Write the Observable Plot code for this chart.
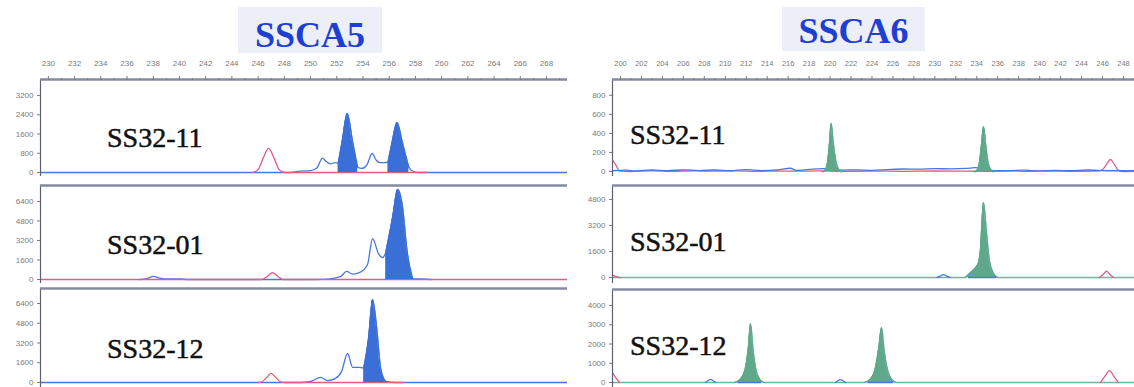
<!DOCTYPE html>
<html>
<head>
<meta charset="utf-8">
<script src="https://cdn.jsdelivr.net/npm/d3@7"></script>
<script src="https://cdn.jsdelivr.net/npm/@observablehq/plot@0.6"></script>
<style>
  html, body { margin: 0; padding: 0; background: #fff; }
  body { position: relative; width: 1134px; height: 387px; overflow: hidden; font-family: "Liberation Sans", Arial, sans-serif; }
  .title { position: absolute; box-sizing: border-box; background: #edeff8; color: #1e3fd2;
           font-family: "Liberation Serif", "Times New Roman", Times, "DejaVu Serif", serif;
           font-weight: bold; font-size: 36px; line-height: 40px; text-align: center; }
  .sample { position: absolute; font-family: "Liberation Serif", "Times New Roman", Times, "DejaVu Serif", serif;
            font-size: 28px; line-height: 28px; color: #111; white-space: nowrap; -webkit-text-stroke: 0.5px #111; }
  svg { position: absolute; overflow: visible; }
</style>
</head>
<body>
<script>
// ---------------- DATA ----------------
const markers = ["SSCA5", "SSCA6"];
const samples = ["SS32-11", "SS32-01", "SS32-12"];

// top axis tick labels (fragment size, bp)
const ssca5SizeTicks = [230,232,234,236,238,240,242,244,246,248,250,252,254,256,258,260,262,264,266,268];
const ssca6SizeTicks = [200,202,204,206,208,210,212,214,216,218,220,222,224,226,228,230,232,234,236,238,240,242,244,246,248];

// y-axis tick labels (RFU)
const ssca5_11_yTicks = [0, 800, 1600, 2400, 3200];
const ssca5_01_yTicks = [0, 1600, 3200, 4800, 6400];
const ssca5_12_yTicks = [0, 1600, 3200, 4800, 6400];
const ssca6_11_yTicks = [0, 200, 400, 600, 800];
const ssca6_01_yTicks = [0, 1600, 3200, 4800];
const ssca6_12_yTicks = [0, 1000, 2000, 3000, 4000];

// ---- SSCA5 / SS32-11 ----  [size, height]
const ssca5_11_blue = [[229.4,0],[248.5,0],[249.2,60],[250.0,80],[250.5,200],[250.9,600],[251.2,460],[251.5,360],[251.9,410],[252.1,380],[252.4,1250],[252.8,2450],[253.2,1300],[253.6,220],[253.9,170],[254.3,320],[254.7,790],[255.0,520],[255.3,410],[255.9,420],[256.2,1200],[256.6,2075],[257.0,1250],[257.5,220],[257.9,30],[258.4,0],[269.6,0]];
const ssca5_11_red = [[245.6,0],[246.0,120],[246.4,620],[246.8,1000],[247.2,620],[247.6,120],[248.0,0],[258.9,0]];
const ssca5_11_called = [[252.1,253.6],[255.9,257.5]];

// ---- SSCA5 / SS32-01 ----
const ssca5_01_blue = [[237.0,0],[237.6,100],[238.0,250],[238.5,120],[239.2,40],[240.1,40],[240.6,0],[250.4,0],[251.5,50],[252.3,250],[252.75,660],[253.2,440],[253.8,600],[254.35,1250],[254.73,3350],[255.19,2100],[255.5,1800],[255.73,2200],[256.26,5100],[256.64,7380],[257.02,5900],[257.33,2600],[257.79,80],[258.4,40],[259.2,0]];
const ssca5_01_red = [[229.4,0],[246.3,0],[246.7,250],[247.1,560],[247.5,250],[247.9,0],[269.6,0]];
const ssca5_01_called = [[255.73,257.79]];

// ---- SSCA5 / SS32-12 ----
const ssca5_12_blue = [[229.4,0],[248.5,0],[249.2,0],[250.0,80],[250.76,410],[251.3,160],[251.9,330],[252.37,900],[252.82,2350],[253.21,1230],[253.66,1230],[254.05,1170],[254.43,3630],[254.73,6720],[255.04,4450],[255.34,1170],[255.73,80],[256.5,0],[269.6,0]];
const ssca5_12_red = [[246.0,0],[246.3,60],[246.65,400],[247.0,740],[247.35,400],[247.7,60],[248.0,0],[257.1,0]];
const ssca5_12_called = [[254.05,255.73]];

// ---- SSCA6 / SS32-11 ----
const ssca6_11_greenA = [[219.2,0],[219.4,0],[219.7,60],[219.95,300],[220.1,505],[220.3,300],[220.6,80],[221.0,0],[221.2,0]];
const ssca6_11_greenB = [[233.7,0],[233.9,0],[234.2,60],[234.45,280],[234.64,472],[234.85,280],[235.1,80],[235.5,0],[235.7,0]];
const ssca6_11_blue = [[199.24,8],[200.5,14],[201.5,6],[203,16],[204.5,8],[206,18],[207.5,10],[209,16],[210.5,8],[212,20],[213.5,10],[215,18],[216.2,34],[216.8,12],[218,22],[219.3,30],[221.2,15],[222.5,18],[224,12],[225.5,20],[227,26],[228.5,24],[230,30],[231.5,28],[233,32],[233.8,40],[235.6,10],[237,8],[238.5,14],[240,6],[241.5,12],[243,8],[244.5,16],[245.8,10],[247.5,8],[249.05,10]];
const ssca6_11_red = [[199.24,120],[199.6,60],[199.9,5],[201,0],[203,6],[205,2],[207,8],[209,3],[211,6],[213,2],[215,5],[217,3],[219,6],[221,2],[224,4],[227,2],[230,5],[233,3],[235,2],[237,6],[239,2],[241,5],[243,2],[245.3,3],[246.0,20],[246.4,80],[246.76,126],[247.1,80],[247.5,15],[248,0],[249.05,3]];
const ssca6_11_called = [[219.4,221.0],[233.9,235.5]];

// ---- SSCA6 / SS32-01 ----
const ssca6_01_green = [[199.24,0],[232.9,0],[233.4,300],[233.9,620],[234.16,900],[234.35,1700],[234.64,4610],[234.92,2800],[235.21,1000],[235.6,250],[236.0,0],[249.05,0]];
const ssca6_01_blueBump = [[230.2,0],[230.5,80],[230.82,180],[231.15,80],[231.45,0]];
const ssca6_01_blueBase = [[233.2,0],[235.8,0]];
const ssca6_01_redEdge = [[199.24,150],[199.6,60],[199.95,0]];
const ssca6_01_redBump = [[245.7,0],[246.05,180],[246.38,390],[246.7,180],[247.05,0]];
const ssca6_01_called = [[232.9,236.0]];

// ---- SSCA6 / SS32-12 ----
const ssca6_12_green = [[199.24,0],[210.9,0],[211.4,150],[211.9,700],[212.2,1800],[212.41,3060],[212.65,1700],[212.95,600],[213.3,150],[213.7,0],[223.3,0],[223.8,150],[224.3,700],[224.65,1800],[224.91,2850],[225.15,1700],[225.5,600],[225.9,150],[226.3,0],[249.05,0]];
const ssca6_12_blueBumpA = [[208.1,0],[208.35,90],[208.59,160],[208.85,90],[209.1,0]];
const ssca6_12_blueBumpB = [[220.5,0],[220.75,90],[220.99,150],[221.25,90],[221.5,0]];
const ssca6_12_blueBaseA = [[211.2,0],[213.4,0]];
const ssca6_12_blueBaseB = [[223.6,0],[226.0,0]];
const ssca6_12_redEdge = [[199.24,500],[199.55,250],[199.9,0]];
const ssca6_12_redBump = [[245.8,0],[246.2,300],[246.66,620],[247.1,300],[247.5,0]];
const ssca6_12_called = [[210.9,213.7],[223.3,226.3]];

// ---------------- STYLE / LAYOUT ----------------
const BLUE_LINE = "#4677e0", BLUE_FILL = "#3b6fd8", RED = "#e65a86";
const GREEN_FILL = "#5fa88b", GREEN_LINE = "#6cb69a", FRAME = "#858a9f", AXIS_TXT = "#7b7b7b";

// traces: drawn before fills; over: drawn after fills
const columns = [
  { marker: markers[0], left: 0, width: 575, ml: 40, mr: 8, xDomain: [229.4, 269.6], sizeTicks: ssca5SizeTicks, tickFont: 8,
    title: { left: 238, top: 7, width: 144, height: 46, pad: 8 }, labelX: 107,
    rows: [
      { frameTop: 79, bottom: 176, zero: 172, k: 41.6, yTicks: ssca5_11_yTicks, labelBase: 147,
        traces: [{ color: BLUE_LINE, data: [ssca5_11_blue] }, { color: RED, data: [ssca5_11_red] }],
        fills: ssca5_11_called.map(r => ({ trace: ssca5_11_blue, range: r, color: BLUE_FILL })), over: [] },
      { frameTop: 185, bottom: 283, zero: 279, k: 82, yTicks: ssca5_01_yTicks, labelBase: 254,
        traces: [{ color: BLUE_LINE, data: [ssca5_01_blue] }, { color: RED, data: [ssca5_01_red] }],
        fills: ssca5_01_called.map(r => ({ trace: ssca5_01_blue, range: r, color: BLUE_FILL })), over: [] },
      { frameTop: 288, bottom: 387, zero: 382, k: 81, yTicks: ssca5_12_yTicks, labelBase: 358,
        traces: [{ color: BLUE_LINE, data: [ssca5_12_blue] }, { color: RED, data: [ssca5_12_red] }],
        fills: ssca5_12_called.map(r => ({ trace: ssca5_12_blue, range: r, color: BLUE_FILL })), over: [] }
    ] },
  { marker: markers[1], left: 572, width: 562, ml: 40, mr: 0, xDomain: [199.24, 249.05], sizeTicks: ssca6SizeTicks, tickFont: 7.5,
    title: { left: 782, top: 7, width: 143, height: 44, pad: 4 }, labelX: 630,
    rows: [
      { frameTop: 79, bottom: 176, zero: 171, k: 10.5, yTicks: ssca6_11_yTicks, labelBase: 144,
        traces: [{ color: RED, data: [ssca6_11_red] }, { color: BLUE_LINE, data: [ssca6_11_blue] }, { color: GREEN_FILL, data: [ssca6_11_greenA, ssca6_11_greenB] }],
        fills: [
          { trace: ssca6_11_greenA, range: ssca6_11_called[0], color: GREEN_FILL },
          { trace: ssca6_11_greenB, range: ssca6_11_called[1], color: GREEN_FILL }], over: [] },
      { frameTop: 185, bottom: 283, zero: 277, k: 61.5, yTicks: ssca6_01_yTicks, labelBase: 251,
        traces: [{ color: GREEN_LINE, data: [ssca6_01_green] }, { color: RED, data: [ssca6_01_redEdge, ssca6_01_redBump] }, { color: BLUE_LINE, data: [ssca6_01_blueBump] }],
        fills: ssca6_01_called.map(r => ({ trace: ssca6_01_green, range: r, color: GREEN_FILL })),
        over: [{ color: BLUE_LINE, data: [ssca6_01_blueBase] }] },
      { frameTop: 289, bottom: 387, zero: 382, k: 52, yTicks: ssca6_12_yTicks, labelBase: 355,
        traces: [{ color: GREEN_LINE, data: [ssca6_12_green] }, { color: RED, data: [ssca6_12_redEdge, ssca6_12_redBump] }, { color: BLUE_LINE, data: [ssca6_12_blueBumpA, ssca6_12_blueBumpB] }],
        fills: ssca6_12_called.map(r => ({ trace: ssca6_12_green, range: r, color: GREEN_FILL })),
        over: [{ color: BLUE_LINE, data: [ssca6_12_blueBaseA, ssca6_12_blueBaseB] }] }
    ] }
];

// ---------------- DRAW ----------------
const X = d => d[0], Y = d => d[1];
const lineMarks = (list, marks) => {
  for (const tr of list)
    for (const arr of tr.data)
      marks.push(Plot.line(arr, { x: X, y: Y, stroke: tr.color, strokeWidth: 1.3, curve: "monotone-x", clip: true }));
};

columns.forEach(col => {
  const t = document.createElement("div");
  t.className = "title";
  Object.assign(t.style, { left: col.title.left + "px", top: col.title.top + "px", width: col.title.width + "px",
                           height: col.title.height + "px", paddingTop: col.title.pad + "px" });
  t.textContent = col.marker;
  document.body.appendChild(t);

  col.rows.forEach((p, i) => {
    const plotTop = i === 0 ? 40 : p.frameTop - 3;
    const mt = p.frameTop - plotTop;
    const yDom = [-(p.bottom - p.zero) * p.k, (p.zero - p.frameTop) * p.k];
    const marks = [];
    lineMarks(p.traces, marks);
    for (const f of p.fills) {
      const pts = f.trace.filter(d => d[0] >= f.range[0] && d[0] <= f.range[1]);
      marks.push(Plot.areaY(pts, { x: X, y: Y, fill: f.color, curve: "monotone-x", clip: true }));
      marks.push(Plot.line(pts, { x: X, y: Y, stroke: f.color, strokeWidth: 1.2, curve: "monotone-x", clip: true }));
    }
    lineMarks(p.over, marks);
    marks.push(Plot.ruleX([col.xDomain[0]], { stroke: "#5d6073", strokeWidth: 1.2 }));
    marks.push(Plot.ruleY([yDom[1]], { stroke: FRAME, strokeWidth: 2.6 }));
    marks.push(Plot.axisY({ ticks: p.yTicks, tickFormat: d => String(d), tickSize: 3, tickPadding: 4, fontSize: 8,
                            color: AXIS_TXT, label: null }));
    if (i === 0) {
      marks.push(Plot.axisX({ anchor: "top", ticks: col.sizeTicks, tickFormat: d => String(d), tickSize: 4, tickPadding: 10,
                              fontSize: col.tickFont, color: AXIS_TXT, label: null }));
      marks.push(Plot.axisX({ anchor: "top", ticks: col.sizeTicks.map(d => d + 1), tickSize: 2, text: null,
                              color: AXIS_TXT, label: null }));
    }
    const svg = Plot.plot({
      width: col.width, height: p.bottom - plotTop,
      marginLeft: col.ml, marginRight: col.mr, marginTop: mt, marginBottom: 0,
      x: { domain: col.xDomain, axis: null },
      y: { domain: yDom, axis: null },
      style: { background: "transparent", fontFamily: "'Liberation Sans', Arial, sans-serif", overflow: "visible" },
      marks
    });
    svg.style.left = col.left + "px";
    svg.style.top = plotTop + "px";
    document.body.appendChild(svg);

    const s = document.createElement("div");
    s.className = "sample";
    s.textContent = samples[i];
    s.style.left = col.labelX + "px";
    s.style.top = (p.labelBase - 23.4) + "px";
    document.body.appendChild(s);
  });
});
</script>
</body>
</html>
